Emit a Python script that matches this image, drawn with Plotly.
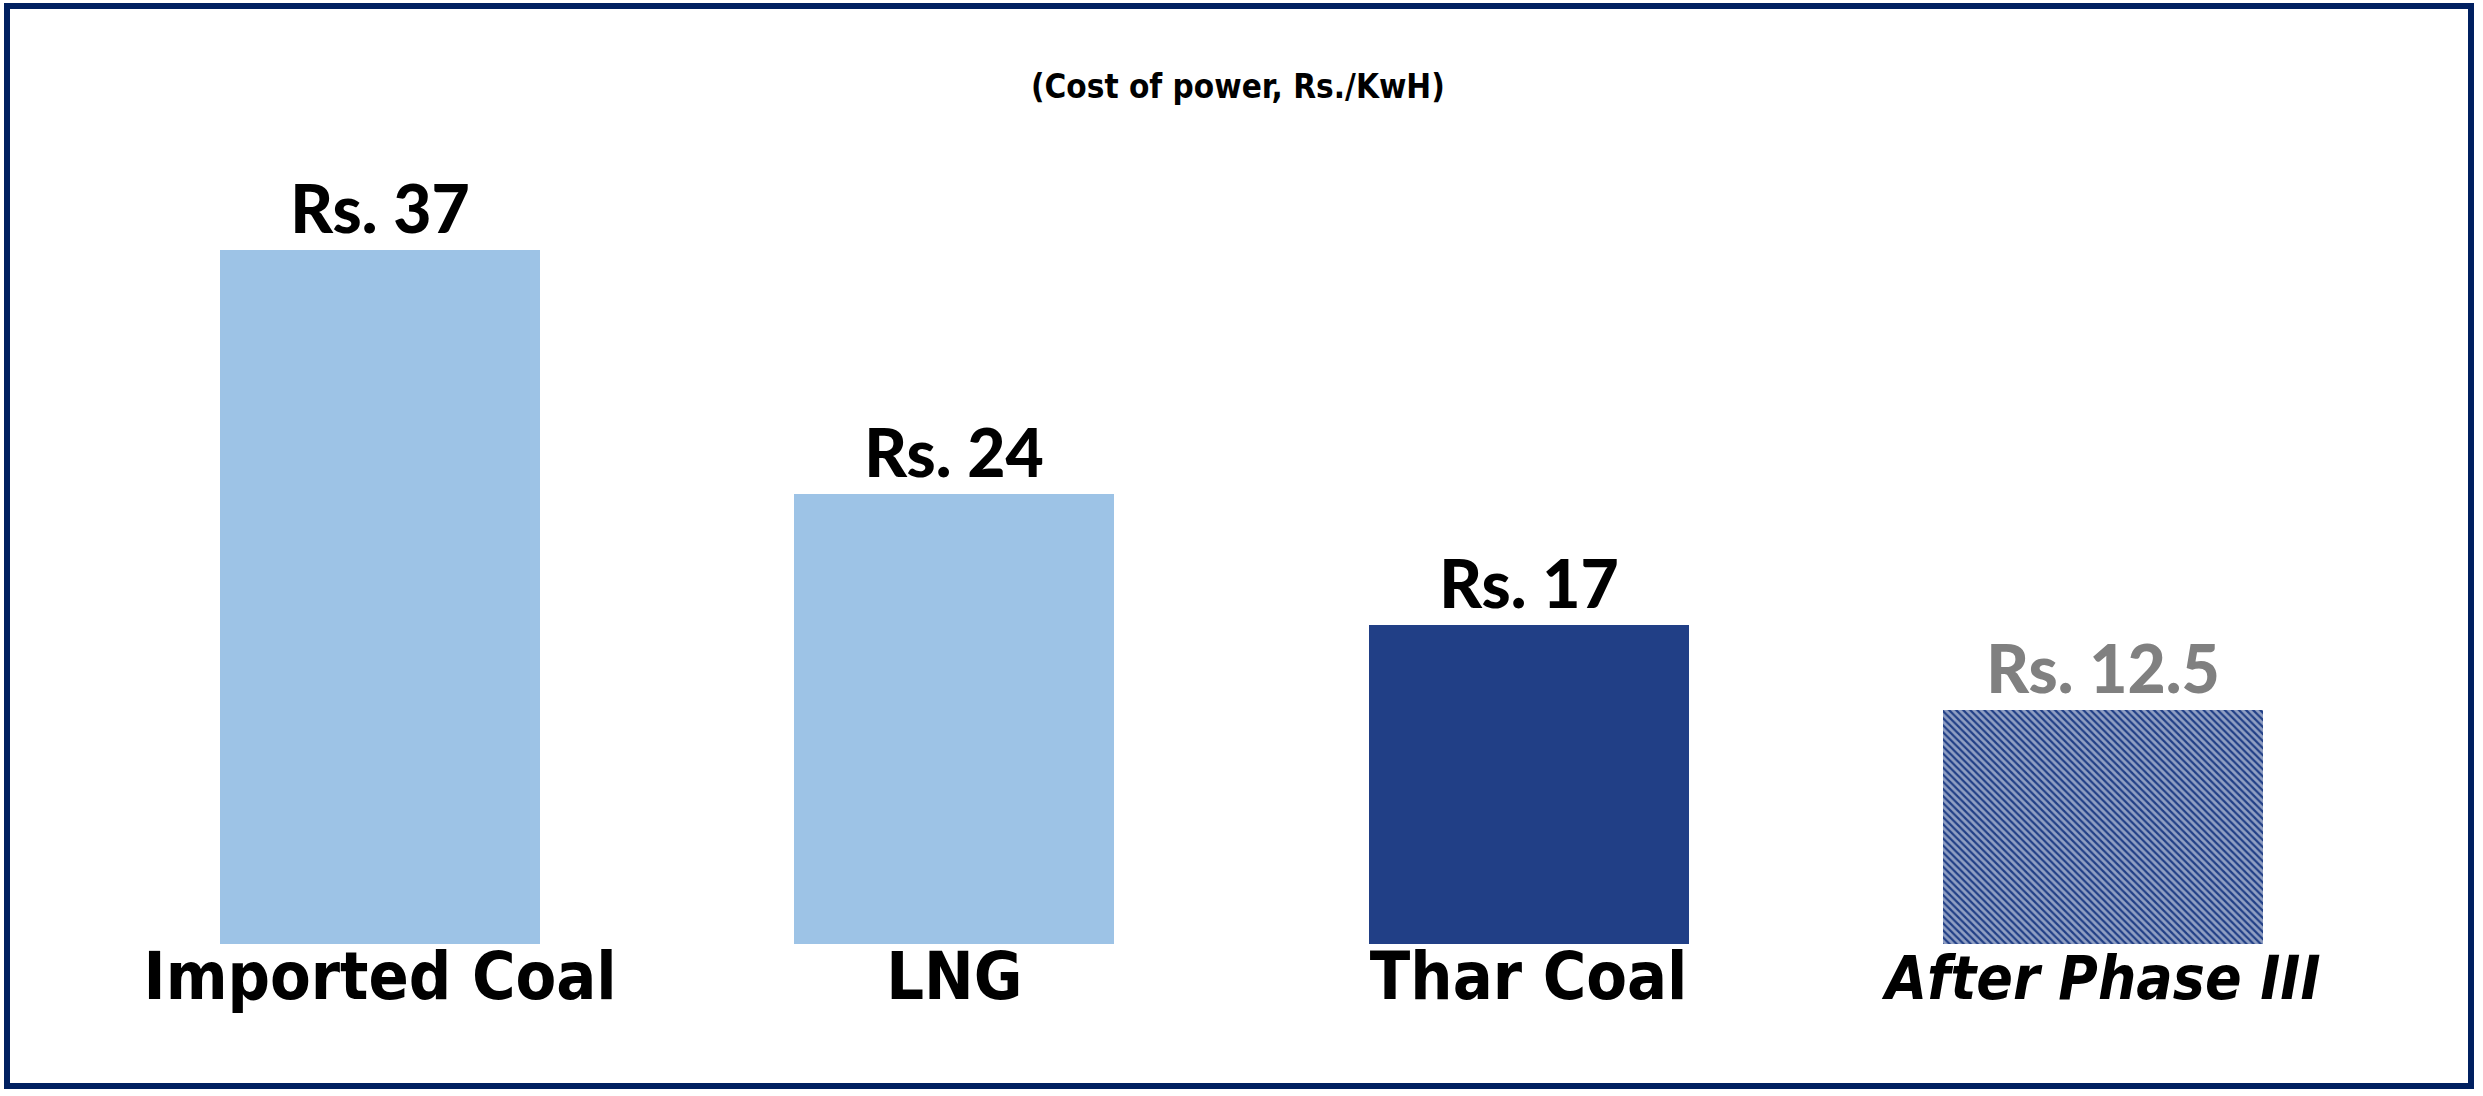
import plotly.graph_objects as go

# Cost of power by fuel source (Rs. per kWh)
categories = ["Imported Coal", "LNG", "Thar Coal", "After Phase III"]
tick_labels = [
    "Imported Coal",
    "LNG",
    "Thar Coal",
    "<span style='font-size:60px'><i>After Phase III</i></span>",
]
costs = [37, 24, 17, 12.5]

LIGHT_BLUE = "#9DC3E6"
NAVY = "#213F86"
BORDER = "#002060"

W, H = 2483, 1096
M_L, M_R, M_T, M_B = 93, 93, 194, 152

bar_colors = [LIGHT_BLUE, LIGHT_BLUE, NAVY, NAVY]
label_colors = ["black", "black", "black", "#808080"]
# projected bar: navy with white diagonal stripes
pattern_shapes = ["", "", "", "\\"]

LABEL_FONT = "Lato, 'Open Sans', sans-serif"
AXIS_FONT = "'DejaVu Sans Condensed', Tahoma, 'DejaVu Sans', sans-serif"

fig = go.Figure(
    go.Bar(
        x=categories,
        y=costs,
        width=0.557,
        marker=dict(
            color=bar_colors,
            line=dict(width=0),
            pattern=dict(
                shape=pattern_shapes,
                fgcolor="white",
                size=5,
                solidity=0.55,
                fillmode="overlay",
            ),
        ),
        text=[f"Rs. {v:g}" for v in costs],
        textposition="outside",
        textfont=dict(family=LABEL_FONT, size=66, color=label_colors, weight=900),
        cliponaxis=False,
        hoverinfo="skip",
    )
)

plot_w = W - M_L - M_R
plot_h = H - M_T - M_B


def px_x(px):
    return (px - M_L) / plot_w


def px_y(py):
    return (H - M_B - py) / plot_h


# dark frame around the whole chart
fig.add_shape(
    type="rect",
    xref="paper", yref="paper",
    x0=px_x(7), x1=px_x(2471),
    y0=px_y(1086), y1=px_y(6),
    line=dict(color=BORDER, width=6),
    fillcolor="rgba(0,0,0,0)",
    layer="above",
)

fig.add_annotation(
    text="(Cost of power, Rs./KwH)",
    xref="paper", yref="paper",
    x=px_x(1238), y=px_y(86),
    xanchor="center", yanchor="middle",
    showarrow=False,
    font=dict(family=AXIS_FONT, size=33, color="black", weight="bold"),
)

fig.update_layout(
    width=W,
    height=H,
    margin=dict(l=M_L, r=M_R, t=M_T, b=M_B, pad=0),
    paper_bgcolor="white",
    plot_bgcolor="white",
    showlegend=False,
    bargap=0,
    xaxis=dict(
        range=[-0.5, 3.5],
        tickmode="array",
        tickvals=categories,
        ticktext=tick_labels,
        tickfont=dict(family=AXIS_FONT, size=66, color="black", weight="bold"),
        ticklabelstandoff=-12,
        showgrid=False,
        showline=False,
        zeroline=False,
        ticks="",
        fixedrange=True,
    ),
    yaxis=dict(
        range=[0, 40],
        visible=False,
        showgrid=False,
        zeroline=False,
        fixedrange=True,
    ),
)

fig.write_html("out.html", config={"displayModeBar": False})
